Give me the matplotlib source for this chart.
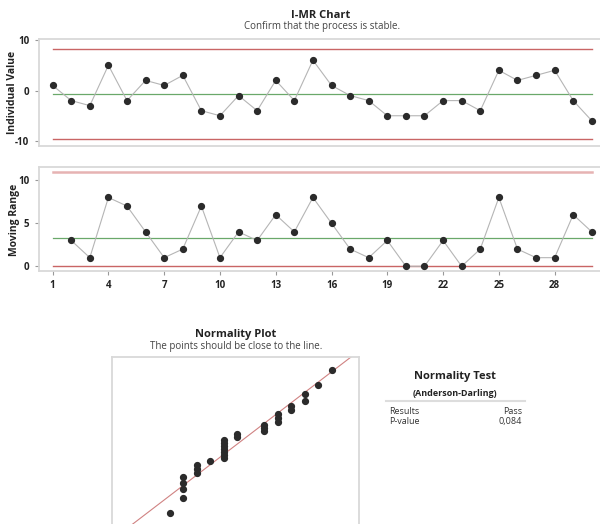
import numpy as np
import matplotlib
matplotlib.use("Agg")
import matplotlib.pyplot as plt
from statistics import NormalDist

plt.rcParams['font.family'] = ['Open Sans', 'DejaVu Sans']
plt.rcParams['axes.unicode_minus'] = False

# Data
observations = list(range(1, 31))
individual_values = [1, -2, -3, 5, -2, 2, 1, 3, -4, -5, -1, -4, 2, -2, 6,
                     1, -1, -2, -5, -5, -5, -2, -2, -4, 4, 2, 3, 4, -2, -6]
mr_ticks = [1, 4, 7, 10, 13, 16, 19, 22, 25, 28]
i_ticks = [-10, 0, 10]
mr_yticks = [0, 5, 10]
test_rows = ["Results", "P-value"]
test_values = ["Pass", "0,084"]

x = np.array(observations)
iv = np.array(individual_values, dtype=float)
mr = np.abs(np.diff(iv))
mr_x = x[1:]
mean_i = iv.mean()
mr_bar = mr.mean()
ucl_i = mean_i + 2.66 * mr_bar
lcl_i = mean_i - 2.66 * mr_bar
ucl_mr = 3.267 * mr_bar

RED = "#c96565"
PINK = "#e6b3b3"
GREEN = "#6aa86a"
SPINE = "#d9d9d9"
PT = "#2b2b2b"
LINE = "#b5b5b5"
TXT = "#222222"

W, H = 600, 524
fig = plt.figure(figsize=(6, 5.24), dpi=100)


def ax_rect(l, t, r, b):
    return [l / W, 1 - b / H, (r - l) / W, (b - t) / H]


def style(ax, hide=("right",)):
    for s in ax.spines.values():
        s.set_color(SPINE)
        s.set_linewidth(1.3)
    for s in hide:
        ax.spines[s].set_visible(False)
    ax.tick_params(colors="#999999", length=3, width=0.8,
                   labelcolor=TXT, labelsize=7)
    for lab in ax.get_xticklabels() + ax.get_yticklabels():
        lab.set_fontweight("bold")


# I chart
ax1 = fig.add_axes(ax_rect(38.5, 39.3, 600, 145.7))
ax1.plot([x[0], x[-1]], [ucl_i, ucl_i], color=RED, lw=1.0)
ax1.plot([x[0], x[-1]], [lcl_i, lcl_i], color=RED, lw=1.0)
ax1.plot([x[0], x[-1]], [mean_i, mean_i], color=GREEN, lw=0.9)
ax1.plot(x, iv, color=LINE, lw=0.8, zorder=3)
ax1.plot(x, iv, 'o', color=PT, ms=4.2, zorder=4)
ax1.set_xlim(0.24, 30.44)
ax1.set_ylim(-10.93, 10.14)
ax1.set_yticks(i_ticks)
ax1.set_xticks([])
style(ax1)

# MR chart
ax2 = fig.add_axes(ax_rect(38.5, 167.3, 600, 271))
ax2.plot([x[0], x[-1]], [ucl_mr, ucl_mr], color=PINK, lw=1.8)
ax2.plot([x[0], x[-1]], [0, 0], color=RED, lw=1.0)
ax2.plot([x[0], x[-1]], [mr_bar, mr_bar], color=GREEN, lw=0.9)
ax2.plot(mr_x, mr, color=LINE, lw=0.8, zorder=3)
ax2.plot(mr_x, mr, 'o', color=PT, ms=4.2, zorder=4)
ax2.set_xlim(0.24, 30.44)
ax2.set_ylim(-0.55, 11.51)
ax2.set_yticks(mr_yticks)
ax2.set_xticks(mr_ticks)
style(ax2)

fig.text(13 / W, 1 - 92 / H, "Individual Value", rotation=90, ha="center", va="center",
         fontsize=7.5, fontweight="bold", color=TXT)
fig.text(15 / W, 1 - 220 / H, "Moving Range", rotation=90, ha="center", va="center",
         fontsize=7.5, fontweight="bold", color=TXT)

fig.text(321 / W, 1 - 15 / H, "I-MR Chart", ha="center", va="center",
         fontsize=8, fontweight="bold", color=TXT)
fig.text(322 / W, 1 - 26.7 / H, "Confirm that the process is stable.", ha="center",
         va="center", fontsize=7, color="#444444")

# Normality plot
n = len(iv)
sorted_v = np.sort(iv)
ranks = np.arange(1, n + 1)
p = (ranks - 0.375) / (n + 0.25)
nd = NormalDist()
z = np.array([nd.inv_cdf(pp) for pp in p])
sd = iv.std(ddof=1)

ax3 = fig.add_axes(ax_rect(112.3, 356.7, 359, 524))
zz = np.array([-3.0, 3.0])
ax3.plot(mean_i + sd * zz, zz, color="#d08282", lw=0.8)
ax3.plot(sorted_v, z, 'o', color=PT, ms=4.2, zorder=4)
ax3.set_xlim(-10.26, 8.01)
ax3.set_ylim(-2.36, 2.43)
ax3.set_xticks([])
ax3.set_yticks([])
style(ax3, hide=("bottom",))

fig.text(236 / W, 1 - 334 / H, "Normality Plot", ha="center", va="center",
         fontsize=8, fontweight="bold", color=TXT)
fig.text(236 / W, 1 - 346 / H, "The points should be close to the line.", ha="center",
         va="center", fontsize=7, color="#444444")

# Normality test table
fig.text(455 / W, 1 - 376 / H, "Normality Test", ha="center", va="center",
         fontsize=8, fontweight="bold", color=TXT)
fig.text(455 / W, 1 - 393 / H, "(Anderson-Darling)", ha="center", va="center",
         fontsize=6.5, fontweight="bold", color=TXT)
fig.add_artist(plt.Line2D([386 / W, 525 / W], [1 - 401 / H, 1 - 401 / H],
                          color="#dddddd", lw=1.5))
for i, (r, v) in enumerate(zip(test_rows, test_values)):
    yy = 1 - (411 + 10.3 * i) / H
    fig.text(389 / W, yy, r, ha="left", va="center", fontsize=6.5, color="#333333")
    fig.text(522 / W, yy, v, ha="right", va="center", fontsize=6.5, color="#333333")

fig.savefig("out.png", dpi=100)
